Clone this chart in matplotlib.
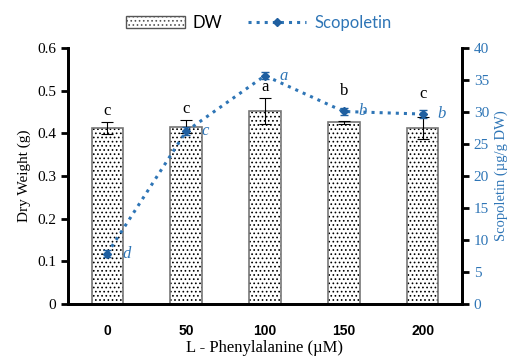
import matplotlib
matplotlib.use("Agg")
import matplotlib.pyplot as plt
import numpy as np
from matplotlib.lines import Line2D
from matplotlib.patches import Patch

# data
conc = ["0", "50", "100", "150", "200"]
dw = [0.412, 0.416, 0.452, 0.426, 0.413]
dw_err = [0.014, 0.015, 0.030, 0.004, 0.026]
dw_letters = ["c", "c", "a", "b", "c"]
scop = [7.9, 27.0, 35.7, 30.1, 29.7]
scop_err = [0.6, 0.6, 0.5, 0.6, 0.6]
scop_letters = ["d", "c", "a", "b", "b"]

blue = "#2E75B6"
serif = "Liberation Serif"

plt.rcParams["hatch.linewidth"] = 0.7
fig = plt.figure(figsize=(5.18, 3.62), dpi=100)
ax = fig.add_axes([0.131, 0.160, 0.761, 0.707])
ax2 = ax.twinx()

x = np.arange(len(conc))
# dotted fill in black, then a grey outline on top
ax.bar(x, dw, width=0.4, color="white", edgecolor="black", hatch="....",
       linewidth=0, zorder=2)
ax.bar(x, dw, width=0.4, color="none", edgecolor="#777777", linewidth=1.2,
       zorder=2)
ax.errorbar(x, dw, yerr=dw_err, fmt="none", ecolor="black", elinewidth=0.8,
            capsize=4, capthick=0.8, zorder=3)
for xi, v, e, s, se, t in zip(x, dw, dw_err, scop, scop_err, dw_letters):
    base = v + e
    mk = (s + se) / 40 * 0.6
    if 0 < mk - base < 0.04:
        base = mk + 0.012
    ax.text(xi, base + 0.008, t, ha="center", va="bottom", fontsize=12,
            family=serif)

ax2.errorbar(x, scop, yerr=scop_err, color=blue, linestyle=":", linewidth=2.2,
             marker="D", markersize=4.5, markerfacecolor="#1F5FA0",
             markeredgecolor="#1F5FA0", ecolor="#1F5FA0", capsize=3, zorder=4)
for xi, v, t in zip(x, scop, scop_letters):
    ax2.text(xi + 0.19, v, t, ha="left", va="center", fontsize=12,
             family=serif, style="italic", color=blue)

ax.set_xlim(-0.5, 4.5)
ax.set_ylim(0, 0.6)
ax2.set_ylim(0, 40)
ax.set_yticks(np.arange(0, 0.61, 0.1))
ax.set_yticklabels(["0", "0.1", "0.2", "0.3", "0.4", "0.5", "0.6"])
ax2.set_yticks(np.arange(0, 41, 5))

ax.set_xticks(x)
ax.set_xticklabels(conc, fontweight="bold", family="Liberation Sans", fontsize=10)
ax.tick_params(axis="x", length=0, pad=14)
ax.tick_params(axis="y", direction="out", length=5, width=2, labelsize=11)
for lab in ax.get_yticklabels():
    lab.set_family(serif)
ax2.tick_params(axis="y", direction="out", length=5, width=2, labelsize=11,
                labelcolor=blue)
for lab in ax2.get_yticklabels():
    lab.set_family(serif)

for a in (ax, ax2):
    a.spines["top"].set_visible(False)
    for s in ("left", "right", "bottom"):
        a.spines[s].set_linewidth(2)
        a.spines[s].set_color("black")

ax.set_xlabel("L - Phenylalanine (\u00b5M)", family=serif, fontsize=12,
              labelpad=2)
ax.set_ylabel("Dry Weight (g)", family=serif, fontsize=11)
ax2.set_ylabel("Scopoletin (\u00b5g/g DW)", family=serif, fontsize=10.5,
               color=blue)

handles = [Patch(facecolor="white", edgecolor="#555555", hatch="....", label="DW"),
           Line2D([0], [0], color=blue, linestyle=":", linewidth=2.2, marker="D",
                  markersize=4.5, markerfacecolor="#1F5FA0",
                  markeredgecolor="#1F5FA0", label="Scopoletin")]
leg = fig.legend(handles=handles, loc="upper center", ncol=2, frameon=False,
                 bbox_to_anchor=(0.5, 1.0), prop={"family": "Lato", "size": 12},
                 handlelength=3.5, columnspacing=1.5, handletextpad=0.5)
leg.get_texts()[1].set_color(blue)

fig.savefig("out.png", dpi=100)
